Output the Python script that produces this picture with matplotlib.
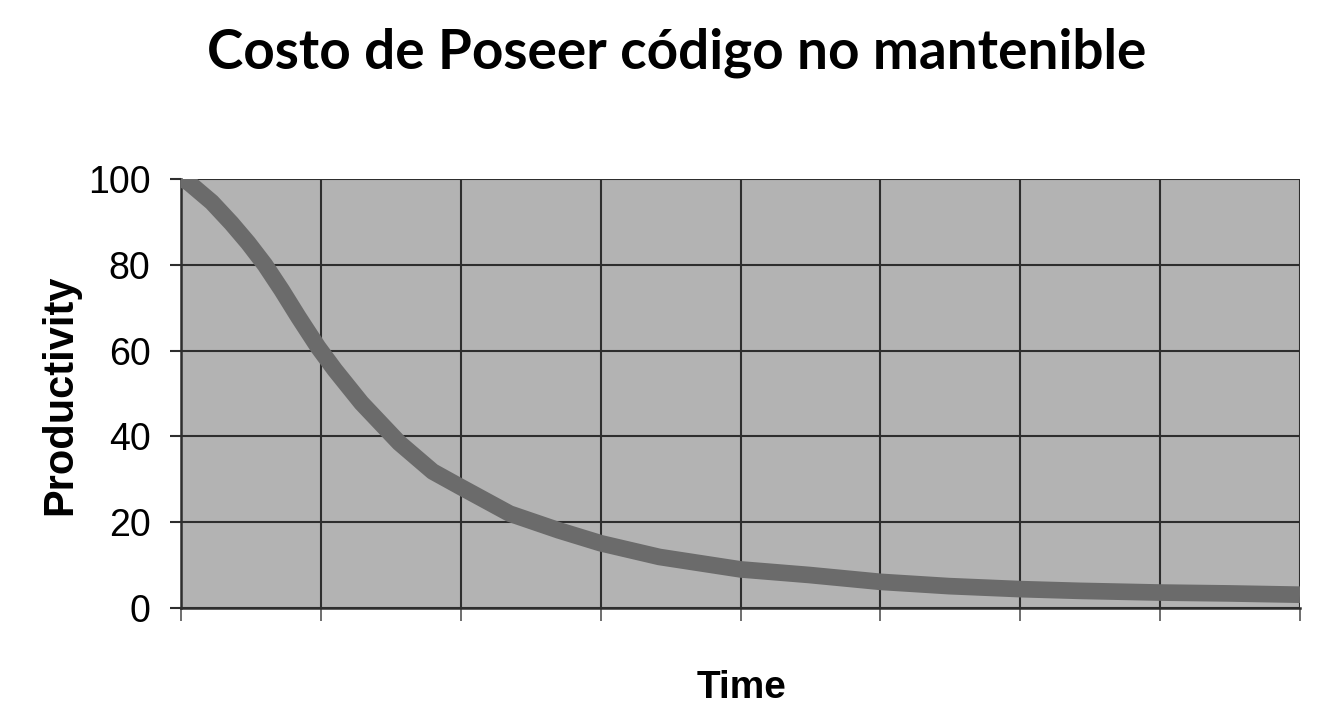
import matplotlib
matplotlib.use("Agg")
import matplotlib.pyplot as plt

# ---- data ----
time = [0, 0.05, 0.22, 0.36, 0.48, 0.60, 0.72, 0.84, 0.98, 1.10, 1.29,
        1.56, 1.80, 2.00, 2.35, 2.70, 3.00, 3.42, 4.00, 4.49, 5.00, 5.49,
        6.00, 6.42, 7.00, 7.49, 8.00]
productivity = [100, 99.3, 94.6, 89.7, 85.1, 80.0, 74.1, 67.8, 60.8, 55.5, 47.8,
                38.5, 31.8, 28.2, 22.0, 18.1, 15.1, 11.9, 9.0, 7.7, 6.1, 5.1,
                4.4, 4.0, 3.6, 3.4, 3.1]
y_ticks = [0, 20, 40, 60, 80, 100]
x_ticks = [0, 1, 2, 3, 4, 5, 6, 7, 8]
title = "Costo de Poseer código no mantenible"
xlabel = "Time"
ylabel = "Productivity"

W, H, DPI = 1338, 708, 100
fig = plt.figure(figsize=(W / DPI, H / DPI), dpi=DPI, facecolor="white")

narrow = ["Liberation Sans Narrow", "Liberation Sans", "DejaVu Sans"]
x0, x1, ytop, ybot = 181, 1300, 179, 608
ax = fig.add_axes([x0 / W, 1 - ybot / H, (x1 - x0) / W, (ybot - ytop) / H])
ax.set_facecolor("#b3b3b3")
ax.set_xlim(0, 8)
ax.set_ylim(0, 100)
ax.set_xticks(x_ticks)
ax.set_xticklabels([])
ax.set_yticks(y_ticks)
ax.set_yticklabels([str(v) for v in y_ticks], family=narrow, fontsize=27)
ax.grid(True, color="#2e2e2e", linewidth=1.5)
ax.set_axisbelow(True)
for s in ["top", "right"]:
    ax.spines[s].set_visible(False)
for s in ["left", "bottom"]:
    ax.spines[s].set_color("#2e2e2e")
    ax.spines[s].set_linewidth(1.8)
ax.tick_params(axis="y", length=8, width=1.5, color="#2e2e2e", pad=14)
ax.tick_params(axis="x", length=9, width=1.2, color="#555555")

ax.plot(time, productivity, color="#6b6b6b", linewidth=12,
        solid_capstyle="butt", solid_joinstyle="round", zorder=3)

renderer = fig.canvas.get_renderer()

def fit_text(x, y, s, target_w, family, weight, rotation=0, size0=30):
    t = fig.text(x, y, s, ha="center", va="center", family=family,
                 weight=weight, fontsize=size0, rotation=rotation)
    bb = t.get_window_extent(renderer=renderer)
    w = bb.height if rotation else bb.width
    t.set_fontsize(size0 * target_w / w)
    return t

fit_text(677 / W, 1 - 53 / H, title, 942, ["Lato", "DejaVu Sans"], "bold", size0=34)
fit_text(742 / W, 1 - 688 / H, xlabel, 90, narrow, "bold", size0=28)
fit_text(60 / W, 1 - 395 / H, ylabel, 240, narrow, "bold", rotation=90, size0=28)

fig.savefig("out.png", dpi=DPI, facecolor="white")
